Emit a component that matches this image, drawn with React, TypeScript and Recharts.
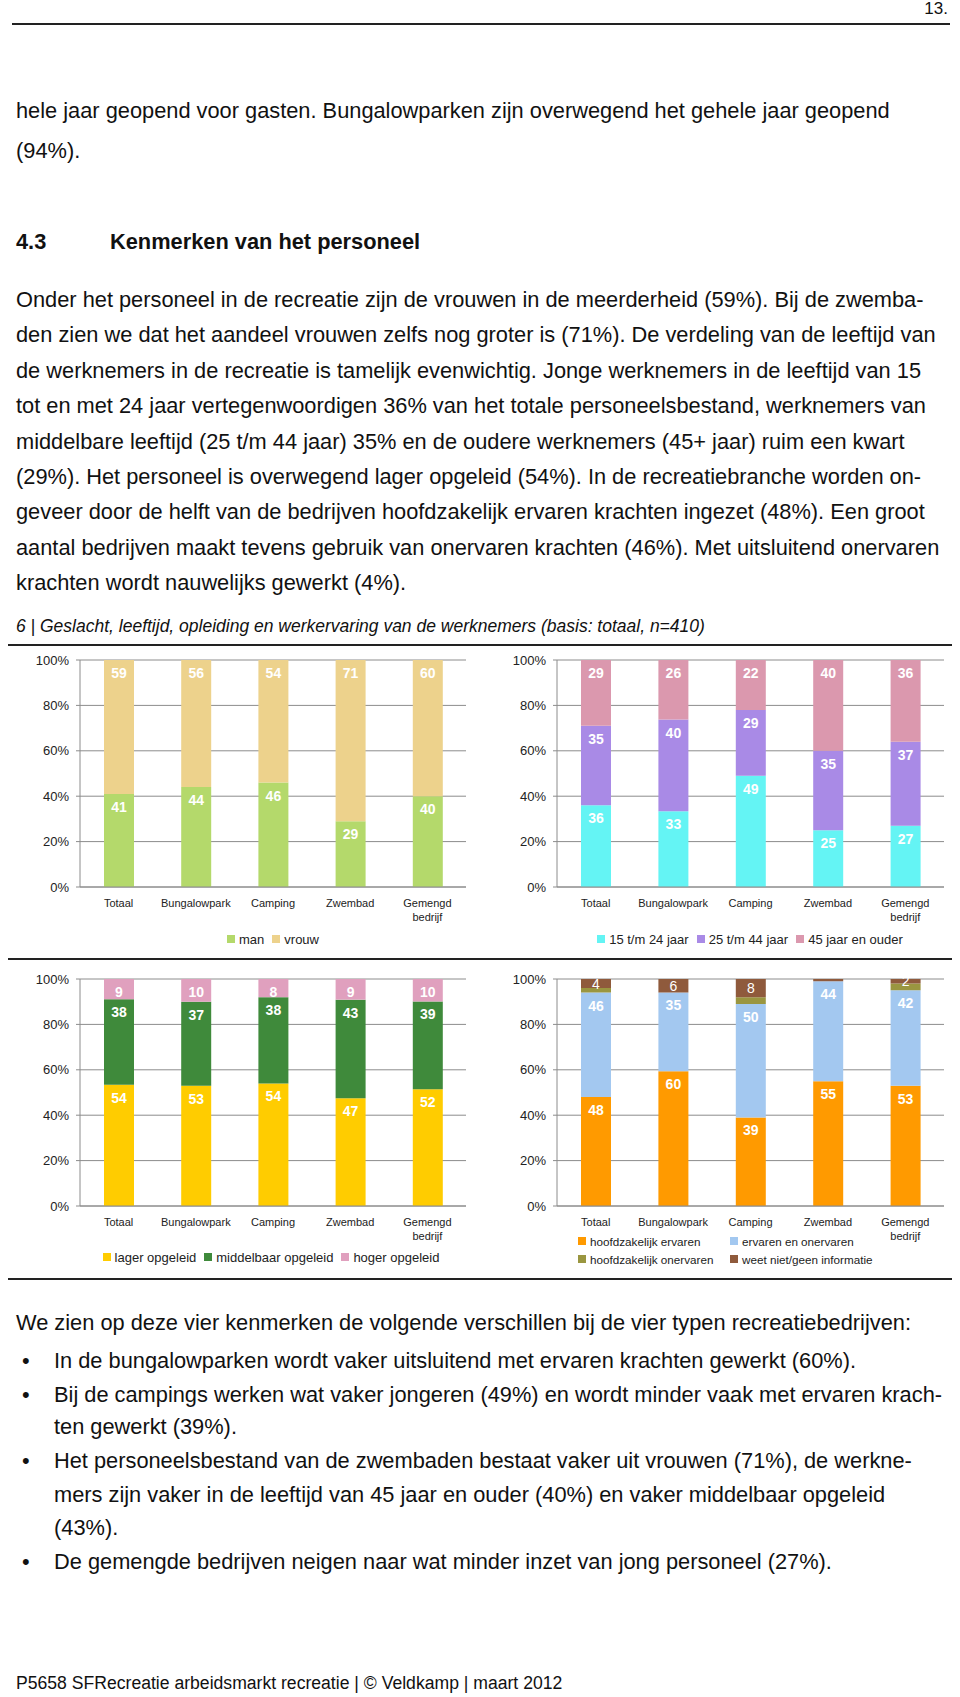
import { Bar, BarChart, CartesianGrid, LabelList, XAxis, YAxis } from "recharts";

const categories = ["Totaal", "Bungalowpark", "Camping", "Zwembad", "Gemengd bedrijf"];
const yTicks = [0, 20, 40, 60, 80, 100];
const boundaryTicks = [0, 1, 2, 3, 4, 5];

// geslacht
const man = [41, 44, 46, 29, 40];
const vrouw = [59, 56, 54, 71, 60];
// leeftijd
const age15to24 = [36, 33, 49, 25, 27];
const age25to44 = [35, 40, 29, 35, 37];
const age45plus = [29, 26, 22, 40, 36];
// opleiding
const lager = [54, 53, 54, 47, 52];
const middelbaar = [38, 37, 38, 43, 39];
const hoger = [9, 10, 8, 9, 10];
// werkervaring
const ervaren = [48, 60, 39, 55, 53];
const ervarenOnervaren = [46, 35, 50, 44, 42];
const onervaren = [2, 0, 3, 0, 3];
const weetNiet = [4, 6, 8, 1, 2];

const font = '"Liberation Sans", Arial, Helvetica, sans-serif';
const gridColor = "#8c8c8c";

type Series = {
  key: string;
  name: string;
  color: string;
  values: number[];
  label: "top" | "center" | "none";
};

const genderSeries: Series[] = [
  { key: "man", name: "man", color: "#b4d96b", values: man, label: "top" },
  { key: "vrouw", name: "vrouw", color: "#edd28c", values: vrouw, label: "top" },
];
const ageSeries: Series[] = [
  { key: "a1", name: "15 t/m 24 jaar", color: "#64f4f4", values: age15to24, label: "top" },
  { key: "a2", name: "25 t/m 44 jaar", color: "#a98ae6", values: age25to44, label: "top" },
  { key: "a3", name: "45 jaar en ouder", color: "#db98ae", values: age45plus, label: "top" },
];
const eduSeries: Series[] = [
  { key: "lager", name: "lager opgeleid", color: "#ffcc00", values: lager, label: "top" },
  { key: "middel", name: "middelbaar opgeleid", color: "#3f8a3b", values: middelbaar, label: "top" },
  { key: "hoger", name: "hoger opgeleid", color: "#e0a0be", values: hoger, label: "top" },
];
const expSeries: Series[] = [
  { key: "erv", name: "hoofdzakelijk ervaren", color: "#ff9a00", values: ervaren, label: "top" },
  { key: "mix", name: "ervaren en onervaren", color: "#a3c8f0", values: ervarenOnervaren, label: "top" },
  { key: "onerv", name: "hoofdzakelijk onervaren", color: "#9a9640", values: onervaren, label: "none" },
  { key: "weet", name: "weet niet/geen informatie", color: "#8f5a3c", values: weetNiet, label: "center" },
];

function CategoryTick(props: any) {
  const { x, y, payload } = props;
  const lines = String(payload.value).split(" ");
  return (
    <text x={x} y={y} textAnchor="middle" fontSize={11} fill="#222" fontFamily={font}>
      {lines.map((line, i) => (
        <tspan key={i} x={x} dy={i === 0 ? "0.71em" : 14}>
          {line}
        </tspan>
      ))}
    </text>
  );
}

function StackChart({
  series,
  left,
  top,
  axisWidth,
  rightMargin,
}: {
  series: Series[];
  left: number;
  top: number;
  axisWidth: number;
  rightMargin: number;
}) {
  const data = categories.map((category, i) => {
    const row: Record<string, string | number> = { category };
    series.forEach((s) => {
      row[s.key] = s.values[i];
    });
    return row;
  });

  // 100% gestapeld, zoals in Excel
  return (
    <div style={{ position: "absolute", left, top }}>
      <BarChart
        width={480}
        height={300}
        data={data}
        stackOffset="expand"
        margin={{ top: 29, right: rightMargin, left: 0, bottom: 4 }}
        barSize={30}
      >
        <CartesianGrid vertical={false} stroke={gridColor} />
        <XAxis
          xAxisId="bounds"
          type="number"
          domain={[0, 5]}
          ticks={boundaryTicks}
          height={0}
          tick={false}
          axisLine={false}
          tickSize={4}
          tickLine={{ stroke: gridColor }}
        />
        <XAxis
          dataKey="category"
          interval={0}
          height={40}
          tickSize={0}
          tickMargin={12}
          tickLine={false}
          axisLine={{ stroke: gridColor }}
          tick={<CategoryTick />}
        />
        <YAxis
          domain={[0, 1]}
          allowDataOverflow
          ticks={yTicks.map((t) => t / 100)}
          width={axisWidth}
          tickFormatter={(v) => `${Math.round(v * 100)}%`}
          tickSize={4}
          tickMargin={7}
          axisLine={{ stroke: gridColor }}
          tickLine={{ stroke: gridColor }}
          tick={{ fontSize: 13, fill: "#222", fontFamily: font }}
        />
        <YAxis
          yAxisId="frame"
          orientation="right"
          domain={[0, 1]}
          width={0}
          tick={false}
          tickLine={false}
          axisLine={{ stroke: gridColor }}
        />
        {series.map((s) => (
          <Bar key={s.key} dataKey={s.key} name={s.name} stackId="a" fill={s.color} isAnimationActive={false}>
            {s.label === "top" && (
              <LabelList
                dataKey={s.key}
                position="insideTop"
                offset={8}
                fill="#fff"
                fontSize={14}
                fontWeight="bold"
                fontFamily={font}
              />
            )}
            {s.label === "center" && (
              <LabelList
                dataKey={s.key}
                position="center"
                fill="#fff"
                fontSize={14}
                fontFamily={font}
                formatter={(v: any) => (Number(v) >= 2 ? v : "")}
              />
            )}
          </Bar>
        ))}
      </BarChart>
    </div>
  );
}

function LegendItem({ s, size }: { s: Series; size: number }) {
  return (
    <span style={{ display: "inline-flex", alignItems: "center", whiteSpace: "nowrap" }}>
      <span style={{ width: 8, height: 8, background: s.color, marginRight: 4, display: "inline-block" }} />
      <span style={{ fontSize: size }}>{s.name}</span>
    </span>
  );
}

function RowLegend({ series, cx, cy, size = 13 }: { series: Series[]; cx: number; cy: number; size?: number }) {
  return (
    <div
      style={{
        position: "absolute",
        left: cx - 240,
        width: 480,
        top: cy - 9,
        height: 18,
        display: "flex",
        justifyContent: "center",
        alignItems: "center",
        gap: 8,
        fontFamily: font,
        color: "#222",
      }}
    >
      {series.map((s) => (
        <LegendItem key={s.key} s={s} size={size} />
      ))}
    </div>
  );
}

function GridLegend({ series, left, cy }: { series: Series[]; left: number; cy: number }) {
  return (
    <div
      style={{
        position: "absolute",
        left,
        top: cy - 9,
        display: "grid",
        gridTemplateColumns: "152px 220px",
        rowGap: 2,
        fontFamily: font,
        color: "#222",
      }}
    >
      {series.map((s) => (
        <div key={s.key} style={{ height: 16, display: "flex", alignItems: "center" }}>
          <LegendItem s={s} size={11.7} />
        </div>
      ))}
    </div>
  );
}

function Line({ y, text, x = 16, size = 21.8, weight = "normal", italic = false }: any) {
  return (
    <div
      style={{
        position: "absolute",
        left: x,
        top: y - 14,
        height: 26,
        lineHeight: "26px",
        fontSize: size,
        fontWeight: weight,
        fontStyle: italic ? "italic" : "normal",
        whiteSpace: "nowrap",
        color: "#111",
      }}
    >
      {text}
    </div>
  );
}

function Rule({ y, x1 = 8, x2 = 952 }: { y: number; x1?: number; x2?: number }) {
  return <div style={{ position: "absolute", left: x1, width: x2 - x1, top: y - 1, height: 2, background: "#222" }} />;
}

const paragraph = [
  "Onder het personeel in de recreatie zijn de vrouwen in de meerderheid (59%). Bij de zwemba-",
  "den zien we dat het aandeel vrouwen zelfs nog groter is (71%). De verdeling van de leeftijd van",
  "de werknemers in de recreatie is tamelijk evenwichtig. Jonge werknemers in de leeftijd van 15",
  "tot en met 24 jaar vertegenwoordigen 36% van het totale personeelsbestand, werknemers van",
  "middelbare leeftijd (25 t/m 44 jaar) 35% en de oudere werknemers (45+ jaar) ruim een kwart",
  "(29%). Het personeel is overwegend lager opgeleid (54%). In de recreatiebranche worden on-",
  "geveer door de helft van de bedrijven hoofdzakelijk ervaren krachten ingezet (48%). Een groot",
  "aantal bedrijven maakt tevens gebruik van onervaren krachten (46%). Met uitsluitend onervaren",
  "krachten wordt nauwelijks gewerkt (4%).",
];
const paragraphY = [301, 336, 372, 407, 443, 478, 513, 549, 584];

const bullets: { y: number; text: string; dot: boolean }[] = [
  { y: 1362, text: "In de bungalowparken wordt vaker uitsluitend met ervaren krachten gewerkt (60%).", dot: true },
  { y: 1396, text: "Bij de campings werken wat vaker jongeren (49%) en wordt minder vaak met ervaren krach-", dot: true },
  { y: 1428, text: "ten gewerkt (39%).", dot: false },
  { y: 1462, text: "Het personeelsbestand van de zwembaden bestaat vaker uit vrouwen (71%), de werkne-", dot: true },
  { y: 1496, text: "mers zijn vaker in de leeftijd van 45 jaar en ouder (40%) en vaker middelbaar opgeleid", dot: false },
  { y: 1529, text: "(43%).", dot: false },
  { y: 1563, text: "De gemengde bedrijven neigen naar wat minder inzet van jong personeel (27%).", dot: true },
];

export default function App() {
  return (
    <div
      style={{
        position: "absolute",
        left: 0,
        top: 0,
        width: 960,
        height: 1697,
        background: "#fff",
        fontFamily: font,
        overflow: "hidden",
      }}
    >
      <div style={{ position: "absolute", right: 12, top: -1, fontSize: 17, color: "#111" }}>13.</div>
      <Rule y={24} x1={12} x2={950} />

      <Line y={112} text="hele jaar geopend voor gasten. Bungalowparken zijn overwegend het gehele jaar geopend" />
      <Line y={152} text="(94%)." />
      <Line y={243} text="4.3" weight="bold" />
      <Line y={243} x={110} text="Kenmerken van het personeel" weight="bold" />

      {paragraph.map((t, i) => (
        <Line key={i} y={paragraphY[i]} text={t} />
      ))}

      <Line y={627} text="6 | Geslacht, leeftijd, opleiding en werkervaring van de werknemers (basis: totaal, n=410)" size={17.5} italic />
      <Rule y={645} />

      <StackChart series={genderSeries} left={0} top={631} axisWidth={80} rightMargin={14} />
      <StackChart series={ageSeries} left={480} top={631} axisWidth={77} rightMargin={16} />
      <RowLegend series={genderSeries} cx={273} cy={939} />
      <RowLegend series={ageSeries} cx={750} cy={939} />

      <Rule y={959} />

      <StackChart series={eduSeries} left={0} top={950} axisWidth={80} rightMargin={14} />
      <StackChart series={expSeries} left={480} top={950} axisWidth={77} rightMargin={16} />
      <RowLegend series={eduSeries} cx={271} cy={1257} />
      <GridLegend series={expSeries} left={578} cy={1242} />

      <Rule y={1279} />

      <Line y={1324} text="We zien op deze vier kenmerken de volgende verschillen bij de vier typen recreatiebedrijven:" />
      {bullets.map((b, i) => (
        <div key={i}>
          {b.dot && <Line y={b.y} x={22} text="•" />}
          <Line y={b.y} x={54} text={b.text} />
        </div>
      ))}

      <Line y={1684} text="P5658 SFRecreatie arbeidsmarkt recreatie | © Veldkamp | maart 2012" size={17.6} />
    </div>
  );
}
